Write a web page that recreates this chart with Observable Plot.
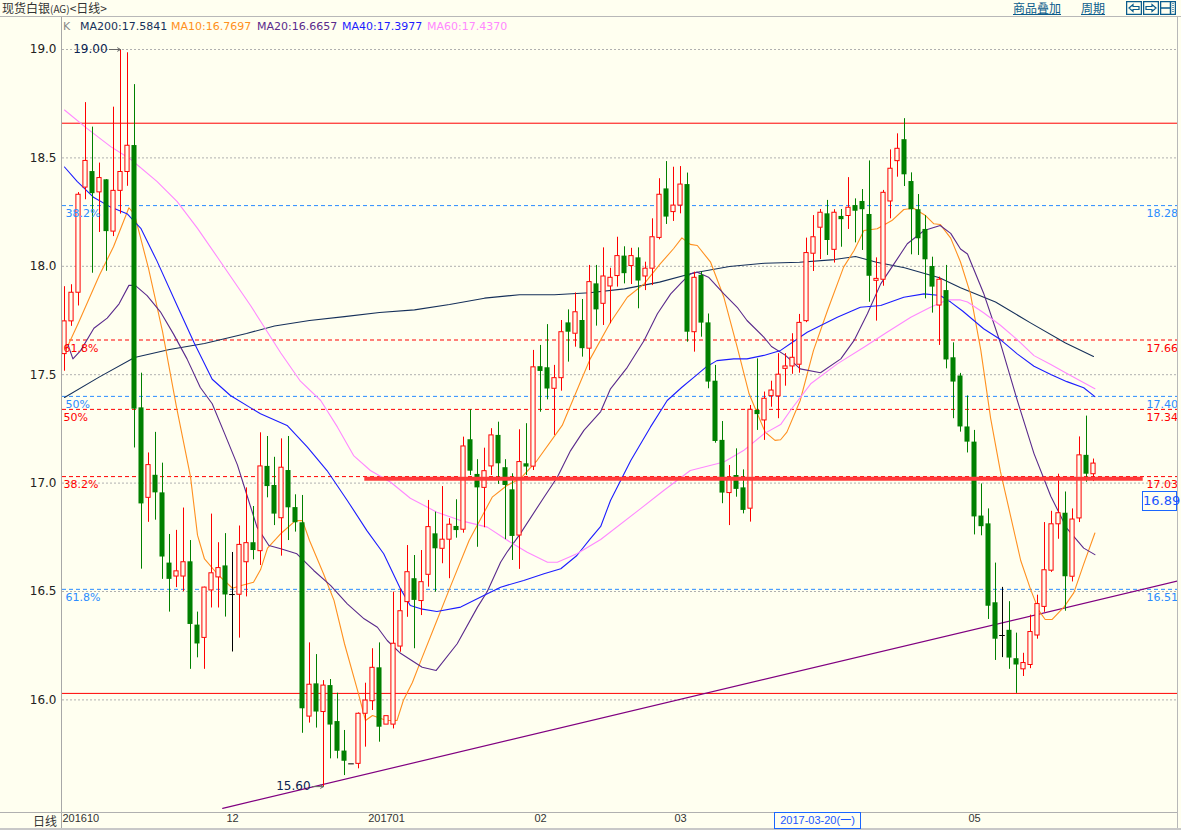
<!DOCTYPE html>
<html><head><meta charset="utf-8">
<script src="https://cdn.jsdelivr.net/npm/d3@7"></script>
<script src="https://cdn.jsdelivr.net/npm/@observablehq/plot@0.6"></script>
<style>
html,body{margin:0;padding:0;background:#fffff0;}
#wrap{position:relative;width:1181px;height:830px;overflow:hidden;background:#fffff0;font-family:"DejaVu Sans",sans-serif;}
#wrap > svg{position:absolute;left:0;top:0;}
.abs{position:absolute;white-space:nowrap;line-height:1;}
</style></head><body><div id="wrap"></div>
<script>
// ---------------- DATA ----------------
const opens  = [17.595,17.746,17.878,18.363,18.437,18.341,18.399,18.160,18.348,18.435,18.557,17.347,16.932,17.036,16.955,16.631,16.569,16.569,16.637,16.345,16.286,16.505,16.565,16.618,16.486,16.485,16.635,16.725,16.686,17.077,16.989,16.838,17.058,16.887,16.817,15.923,16.074,15.944,16.066,15.900,15.764,15.705,15.705,15.936,15.994,16.148,15.886,15.886,16.246,16.451,16.559,16.456,16.577,16.766,16.697,16.739,16.800,16.785,17.200,17.040,16.978,17.077,17.220,17.071,16.969,16.758,17.089,17.076,17.537,17.532,17.435,17.484,17.739,17.689,17.750,17.620,17.919,17.827,17.907,17.955,18.047,18.001,18.039,17.953,17.989,18.131,18.357,18.250,18.280,18.377,17.696,17.958,17.739,17.470,17.197,16.954,17.035,16.978,16.882,17.335,17.289,17.401,17.400,17.527,17.538,17.546,17.747,18.058,18.178,18.242,18.076,18.230,18.232,18.280,18.299,18.239,17.933,17.938,18.299,18.485,18.584,18.391,18.261,18.170,17.999,17.819,17.888,17.578,17.494,17.259,17.189,16.848,16.812,16.448,16.297,16.321,16.190,16.141,16.161,16.297,16.429,16.596,16.810,16.861,16.568,16.837,17.128,17.041];
const highs  = [17.906,17.915,18.340,18.755,18.642,18.476,18.400,18.734,19.000,18.985,18.838,17.507,17.139,17.234,17.092,16.763,16.782,16.885,16.735,16.405,16.520,16.857,16.725,16.767,16.680,16.802,16.978,16.892,17.232,17.215,17.119,17.204,17.215,16.946,16.943,16.263,16.209,16.089,16.094,16.031,15.859,15.705,15.940,16.077,16.236,16.263,15.925,16.497,16.512,16.712,16.666,16.689,16.920,16.866,16.984,16.836,16.923,17.212,17.338,17.108,17.161,17.251,17.281,17.108,17.043,17.246,17.274,17.612,17.635,17.731,17.543,17.750,17.799,17.877,17.847,18.004,18.004,18.085,17.991,18.134,18.090,18.083,18.085,18.019,18.219,18.404,18.483,18.457,18.460,18.430,17.973,17.973,17.780,17.543,17.284,17.081,17.158,17.061,17.358,17.573,17.420,17.470,17.597,17.597,17.689,17.778,18.130,18.234,18.262,18.304,18.261,18.262,18.409,18.311,18.354,18.486,18.039,18.350,18.537,18.611,18.681,18.431,18.331,18.234,18.042,17.950,18.004,17.647,17.506,17.402,17.243,16.996,16.881,16.631,16.519,16.453,16.308,16.215,16.391,16.483,16.818,16.870,17.041,16.959,16.881,17.213,17.309,17.111];
const lows   = [17.516,17.723,17.817,18.307,17.968,18.156,17.977,18.137,18.241,18.369,17.162,16.603,16.819,16.829,16.556,16.405,16.518,16.499,16.141,16.194,16.141,16.424,16.424,16.382,16.221,16.285,16.475,16.646,16.620,16.932,16.804,16.663,16.735,16.774,15.846,15.893,15.870,15.600,15.728,15.728,15.651,15.705,15.682,15.782,15.951,15.805,15.886,15.866,16.220,16.381,16.236,16.389,16.520,16.497,16.628,16.559,16.746,16.769,17.035,16.704,16.794,17.035,16.994,16.739,16.643,16.602,17.035,17.058,17.327,17.384,17.220,17.424,17.558,17.627,17.581,17.519,17.724,17.727,17.735,17.904,17.919,17.916,17.804,17.888,17.911,18.122,18.193,18.207,18.242,17.650,17.604,17.673,17.435,17.184,16.905,16.804,16.935,16.858,16.820,17.243,17.197,17.350,17.297,17.447,17.502,17.507,17.740,17.976,18.031,18.050,18.015,18.088,18.170,18.108,18.073,17.834,17.747,17.908,18.219,18.411,18.368,18.053,18.050,17.850,17.784,17.635,17.527,17.297,17.235,17.139,16.761,16.757,16.371,16.182,16.195,16.141,16.030,16.108,16.144,16.280,16.404,16.588,16.741,16.409,16.544,16.818,17.004,17.007];
const closes = [17.746,17.878,18.330,18.486,18.335,18.407,18.160,18.348,18.435,18.556,17.341,16.904,17.083,16.955,16.659,16.556,16.593,16.635,16.348,16.258,16.518,16.584,16.608,16.484,16.486,16.715,16.723,16.689,17.077,16.984,16.857,17.071,16.886,16.817,15.959,16.070,15.944,16.066,15.884,15.763,15.717,15.705,15.936,15.997,16.148,15.874,15.925,16.259,16.409,16.589,16.459,16.543,16.797,16.697,16.739,16.808,16.781,17.169,17.055,16.978,17.055,17.220,17.089,16.989,16.754,17.097,17.074,17.534,17.515,17.434,17.484,17.696,17.696,17.788,17.620,17.927,17.799,17.953,17.947,18.047,17.966,18.047,17.932,17.989,18.134,18.330,18.227,18.280,18.377,17.696,17.947,17.738,17.466,17.192,16.954,17.015,16.971,16.874,17.338,17.316,17.389,17.427,17.500,17.538,17.578,17.739,18.061,18.134,18.247,18.119,18.247,18.215,18.270,18.254,18.261,17.954,17.942,18.339,18.450,18.542,18.422,18.261,18.127,18.030,17.904,17.938,17.568,17.466,17.259,17.189,16.844,16.799,16.432,16.280,16.297,16.193,16.161,16.170,16.313,16.442,16.598,16.810,16.861,16.568,16.832,17.128,17.041,17.090];

// moving averages: [candle index, price]
const ma200 = [[0,17.395],[5,17.49],[10,17.579],[15,17.616],[20,17.644],[26,17.690],[30,17.725],[35,17.750],[40,17.768],[45,17.787],[50,17.799],[55,17.824],[60,17.853],[65,17.869],[70,17.869],[75,17.878],[80,17.896],[85,17.927],[90,17.970],[95,17.999],[100,18.014],[105,18.019],[110,18.031],[113,18.045],[116,18.019],[120,17.993],[125,17.947],[128,17.901],[133,17.835],[138,17.739],[143,17.646],[147,17.584]];
const ma10 = [[0,17.60],[2,17.74],[5,17.96],[7,18.09],[9.2,18.27],[10,18.24],[12,17.99],[14,17.70],[16,17.35],[18,17.03],[19,16.76],[20,16.65],[22,16.575],[24,16.515],[25,16.525],[27,16.543],[28,16.60],[29,16.70],[31,16.77],[33,16.827],[34,16.827],[35,16.735],[37,16.582],[38.5,16.459],[40,16.259],[42,16.028],[43,15.905],[44,15.928],[46,15.905],[47.5,15.905],[48.4,15.997],[49.7,16.08],[50.9,16.18],[53,16.35],[55.1,16.52],[57.8,16.735],[61.1,16.935],[63.2,16.989],[65.1,17.02],[67.5,17.104],[71.1,17.266],[73.7,17.466],[75.1,17.573],[78,17.742],[80.4,17.857],[82.8,17.919],[85.1,18.011],[87,18.081],[88.2,18.131],[89.4,18.101],[90.4,18.096],[92.3,18.019],[94.2,17.857],[96.1,17.627],[97.8,17.412],[98.9,17.327],[100.1,17.235],[101.5,17.197],[102.3,17.20],[103.2,17.235],[105.1,17.381],[107,17.612],[109,17.796],[111.3,17.996],[112.8,18.073],[114.2,18.165],[116.1,18.173],[118.2,18.211],[119.9,18.262],[121.3,18.268],[123,18.234],[124.2,18.196],[125.1,18.193],[126.6,18.13],[128,18.02],[129.4,17.876],[130.9,17.613],[132.3,17.300],[133.7,17.054],[135.1,16.856],[136.6,16.643],[138,16.511],[139.2,16.412],[140.1,16.371],[141.1,16.371],[142.8,16.429],[144.2,16.495],[145.6,16.626],[147.2,16.770]];
const ma20 = [[0.5,17.639],[1.2,17.573],[2.3,17.611],[4.2,17.714],[6.1,17.761],[7.8,17.827],[9.2,17.912],[10.1,17.912],[11.8,17.865],[13.7,17.790],[15.6,17.686],[17.5,17.573],[19.4,17.441],[21.1,17.366],[22.8,17.234],[24.7,17.084],[26.2,16.93],[27.5,16.797],[29.2,16.712],[30.9,16.697],[33.2,16.674],[35.6,16.597],[38,16.528],[40.4,16.443],[42.8,16.374],[44.7,16.335],[46.1,16.274],[48,16.215],[51.1,16.151],[53.1,16.136],[56.1,16.259],[59,16.428],[60.4,16.50],[62.3,16.635],[63.2,16.681],[65.1,16.766],[68.5,16.935],[70.4,17.027],[72.3,17.150],[74.2,17.243],[76.6,17.33],[78,17.435],[80.4,17.534],[82.8,17.658],[84.7,17.781],[86.6,17.873],[88.2,17.927],[89.4,17.965],[90.4,17.973],[92,17.950],[94.2,17.873],[96.1,17.811],[97.5,17.750],[99.9,17.673],[101,17.63],[103,17.589],[105.1,17.527],[108,17.509],[110.9,17.573],[112.8,17.658],[114.7,17.781],[116.6,17.919],[118.5,18.011],[120.4,18.104],[122.8,18.165],[125.1,18.188],[126.6,18.152],[128,18.08],[129,18.057],[131.3,17.876],[133.7,17.646],[136.1,17.383],[138.5,17.136],[140.9,16.939],[143.2,16.791],[145.6,16.700],[147.2,16.670]];
const ma40 = [[0,18.458],[1.8,18.392],[4.2,18.317],[6.6,18.273],[9,18.241],[10.9,18.175],[13.2,18.025],[16.1,17.818],[18.5,17.649],[21.1,17.479],[23.7,17.404],[26.6,17.347],[28,17.320],[31.8,17.266],[34.7,17.166],[37.5,17.058],[40.4,16.920],[43.2,16.781],[45.6,16.674],[48,16.512],[49.4,16.435],[50.9,16.42],[53.2,16.408],[56.6,16.428],[59.9,16.482],[62.3,16.52],[65.6,16.551],[68.5,16.582],[70.9,16.605],[73.2,16.666],[75.1,16.743],[76.6,16.80],[78,16.920],[80.9,17.104],[83.7,17.258],[86.1,17.381],[88.2,17.442],[89.9,17.488],[91.6,17.534],[93.2,17.565],[95.6,17.573],[97.5,17.573],[99.9,17.589],[102.3,17.612],[104,17.65],[106.1,17.696],[110.4,17.765],[113.7,17.811],[116.6,17.819],[119.9,17.857],[122.8,17.873],[125.1,17.865],[126.6,17.835],[128.3,17.794],[131.3,17.712],[133.7,17.662],[136.1,17.596],[138.5,17.539],[140.9,17.501],[143.2,17.468],[145.6,17.440],[147.2,17.399]];
const ma60 = [[0,18.721],[3.2,18.636],[6.6,18.552],[9.4,18.495],[13.2,18.392],[16.1,18.298],[19,18.175],[21.8,18.044],[24.2,17.931],[26.6,17.818],[30.9,17.60],[33.7,17.47],[36.6,17.381],[39,17.258],[41.3,17.127],[43.7,17.058],[46.6,17.004],[49.4,16.93],[53.2,16.866],[56.6,16.827],[60.4,16.797],[63.7,16.727],[66.1,16.681],[69,16.635],[70.4,16.635],[73.2,16.674],[76.6,16.74],[82.3,16.882],[85.6,16.966],[89.4,17.058],[94.2,17.097],[97,17.150],[99.9,17.227],[102.3,17.27],[103.7,17.335],[106.6,17.458],[110.4,17.550],[114.2,17.627],[117.5,17.696],[120.9,17.765],[123.7,17.811],[126.1,17.845],[128,17.845],[129,17.835],[131.3,17.786],[133.7,17.728],[136.1,17.662],[138.5,17.588],[140.9,17.547],[143.2,17.506],[147.2,17.435]];

const maNames   = ["MA200","MA10","MA20","MA40","MA60"];
const maLegend  = [17.5841,16.7697,16.6657,17.3977,17.4370];
const maColors  = ["#16305a","#ff9020","#5a2a8c","#1c1cff","#ff88ff"];

const yTicks = [16.0,16.5,17.0,17.5,18.0,18.5,19.0];
const fibBluePrice = [18.28,17.40,16.51];
const fibBlueLabel = ["38.2%","50%","61.8%"];
const fibRedPrice  = [17.66,17.34,17.03];
const fibRedLabel  = ["61.8%","50%","38.2%"];
const levelPrices  = [18.66,16.03];
const supportLine  = {from:42.9, to:154.1, p:17.02};
const trendLine    = [{i:22.6,p:15.50},{i:159,p:16.548}];
const tickIndex = [0,24,46,68,88,130];
const tickLabel = ["201610","12","201701","02","03","05"];

// ---------------- BUILD ----------------
const BG="#fffff0", RED="#ff0000", GREEN="#008000", BLUE="#2b8cff";
const candles = opens.map((o,i)=>({i,o,h:highs[i],l:lows[i],c:closes[i]}));
const up = candles.filter(d=>d.c>d.o), down = candles.filter(d=>d.c<d.o), flat = candles.filter(d=>d.c===d.o);
const hiC = candles.reduce((a,b)=>b.h>a.h?b:a), loC = candles.reduce((a,b)=>b.l<a.l?b:a);
const extremes = [{i:hiC.i,p:hiC.h},{i:loC.i,p:loC.l}];
const fibBlue = fibBluePrice.map((p,k)=>({p,label:fibBlueLabel[k]}));
const fibRed  = fibRedPrice.map((p,k)=>({p,label:fibRedLabel[k]}));
const months = tickIndex.map((i,k)=>({i,label:tickLabel[k]}));
const pts = a => a.map(([i,p])=>({i,p}));
const maSeries = [ma200,ma10,ma20,ma40,ma60];

const W=1181,H=830,mL=62,mR=4,mT=17,mB=18;
const xDom=[(mL-64)/7,(W-mR-64)/7];
const pxPerUnit=216.8;
const yDom=[19-((H-mB)-49)/pxPerUnit, 19+(49-mT)/pxPerUnit];

const chart = Plot.plot({
  width:W,height:H,marginLeft:mL,marginRight:mR,marginTop:mT,marginBottom:mB,
  x:{type:"linear",domain:xDom,axis:null},
  y:{type:"linear",domain:yDom,axis:null},
  style:{background:"transparent",fontFamily:"'DejaVu Sans',sans-serif",fontSize:"11px"},
  marks:[
    Plot.ruleY(yTicks,{stroke:"#b0b0b0",strokeDasharray:"2,2"}),
    Plot.ruleY(fibBlue,{y:"p",stroke:BLUE,strokeDasharray:"4,3"}),
    Plot.ruleY(fibRed,{y:"p",stroke:RED,strokeDasharray:"4,3"}),
    Plot.ruleY(levelPrices,{stroke:RED}),
    Plot.line(trendLine,{x:"i",y:"p",stroke:"#800080",strokeWidth:1.2,clip:true}),
    ...maSeries.map((s,k)=>Plot.line(pts(s),{x:"i",y:"p",stroke:maColors[k],strokeWidth:1.1})),
    Plot.ruleX(down,{x:"i",y1:"l",y2:"h",stroke:GREEN}),
    Plot.rect(down,{x1:d=>d.i-0.36,x2:d=>d.i+0.36,y1:"o",y2:"c",fill:GREEN}),
    Plot.ruleX(up,{x:"i",y1:"c",y2:"h",stroke:RED}),
    Plot.ruleX(up,{x:"i",y1:"l",y2:"o",stroke:RED}),
    Plot.rect(up,{x1:d=>d.i-0.3,x2:d=>d.i+0.3,y1:"o",y2:"c",fill:BG,stroke:RED}),
    Plot.ruleX(flat,{x:"i",y1:"l",y2:"h",stroke:"#000"}),
    Plot.ruleY(flat,{y:"c",x1:d=>d.i-0.4,x2:d=>d.i+0.4,stroke:"#000"}),
    Plot.ruleY([supportLine],{y:"p",x1:"from",x2:"to",stroke:"#ff3a3a",strokeWidth:4}),
    // fib labels
    Plot.text(fibBlue,{y:"p",text:"label",frameAnchor:"left",textAnchor:"start",dx:3,dy:8,fill:BLUE}),
    Plot.text(fibRed,{y:"p",text:"label",frameAnchor:"left",textAnchor:"start",dx:1,dy:8,fill:RED}),
    Plot.text(fibBlue,{y:"p",text:d=>d.p.toFixed(2),frameAnchor:"right",textAnchor:"start",dx:-31,dy:8,fill:BLUE}),
    Plot.text(fibRed,{y:"p",text:d=>d.p.toFixed(2),frameAnchor:"right",textAnchor:"start",dx:-31,dy:8,fill:RED}),
    // extremes
    Plot.arrow(extremes,{x1:d=>d.i-1.6,y1:"p",x2:"i",y2:"p",stroke:"#666",headLength:5,strokeWidth:1}),
    Plot.text(extremes,{x:d=>d.i-1.85,y:"p",text:d=>d.p.toFixed(2),textAnchor:"end",fill:"#0b2350",fontSize:12}),
    // y axis labels
    Plot.text(yTicks,{y:d=>d,text:d=>d.toFixed(1),frameAnchor:"left",textAnchor:"end",dx:-6,fill:"#222",fontSize:12}),
    // x axis labels
    Plot.text(months.slice(0,1),{x:"i",text:"label",frameAnchor:"bottom",textAnchor:"start",dx:-2,dy:9,fill:"#333",fontFamily:"'Liberation Sans',sans-serif",fontSize:11}),
    Plot.text(months.slice(1),{x:"i",text:"label",frameAnchor:"bottom",textAnchor:"middle",dy:9,fill:"#333",fontFamily:"'Liberation Sans',sans-serif",fontSize:11})
  ]
});
const wrap=document.getElementById("wrap");
wrap.appendChild(chart);

function add(html,css){const d=document.createElement("div");d.className="abs";d.innerHTML=html;Object.assign(d.style,css);wrap.appendChild(d);return d;}
// frame lines
add("",{left:"0px",top:"16px",width:"1181px",height:"1px",background:"#b8b8b8"});
add("",{left:"61px",top:"17px",width:"1px",height:"813px",background:"#a8a8a8"});
add("",{left:"1177px",top:"17px",width:"1px",height:"813px",background:"#b8b8b8"});
add("",{left:"0px",top:"812px",width:"1177px",height:"1px",background:"#b0b0b0"});
add("",{left:"0px",top:"828px",width:"1181px",height:"2px",background:"#c8c8c8"});
// header
const cjk="'Noto Sans CJK SC',sans-serif";
add("现货白银<span style='font-size:10px'>(AG)</span>&lt;日线&gt;",{left:"2px",top:"0px",height:"16px",lineHeight:"16px",fontSize:"12px",color:"#333",fontFamily:cjk});
add("日线",{left:"33px",top:"813px",height:"16px",lineHeight:"16px",fontSize:"12px",color:"#333",fontFamily:cjk});
// legend
add("K",{left:"63px",top:"21px",fontSize:"11px",color:"#888"});
const legendX=[80,171,257,342,427];
maNames.forEach((n,k)=>add(n+":"+maLegend[k].toFixed(4),{left:legendX[k]+"px",top:"21px",fontSize:"11px",color:maColors[k]}));
// top-right
const tr={top:"0px",height:"16px",lineHeight:"16px",fontSize:"12px",color:"#0b5c8c",textDecoration:"underline",fontFamily:cjk};
add("商品叠加",Object.assign({left:"1013px"},tr));
add("周期",Object.assign({left:"1081px"},tr));
const IC="#0b5c8c";
const iconL=`<svg width="16" height="14"><rect x="0.5" y="0.5" width="15" height="13" fill="none" stroke="${IC}" stroke-width="1.5"/><path d="M3 7 L7 3.5 L7 5.5 L13 5.5 L13 8.5 L7 8.5 L7 10.5 Z" fill="none" stroke="${IC}" stroke-width="1.2"/></svg>`;
const iconR=`<svg width="16" height="14"><rect x="0.5" y="0.5" width="15" height="13" fill="none" stroke="${IC}" stroke-width="1.5"/><path d="M13 7 L9 3.5 L9 5.5 L3 5.5 L3 8.5 L9 8.5 L9 10.5 Z" fill="none" stroke="${IC}" stroke-width="1.2"/></svg>`;
const iconS=`<svg width="16" height="14"><rect x="0.5" y="0.5" width="15" height="13" fill="none" stroke="${IC}" stroke-width="1.5"/><path d="M1 7 H10 M10.5 1 V13" stroke="${IC}" stroke-width="1.5"/><path d="M13 2 V12" stroke="${IC}" stroke-width="1.2" stroke-dasharray="1,1"/></svg>`;
add(iconL,{left:"1126px",top:"1px"});
add(iconR,{left:"1143px",top:"1px"});
add(iconS,{left:"1160px",top:"1px"});
// cursor boxes
add("2017-03-20(一)",{left:"774px",top:"812px",width:"85px",height:"15px",border:"1px solid #1a66ff",color:"#1a55ff",fontSize:"11px",textAlign:"center",lineHeight:"15px",background:"#fffff0",fontFamily:"'Liberation Sans','Noto Sans CJK SC',sans-serif"});
add("16.89",{left:"1142px",top:"491px",width:"33px",height:"18px",border:"1px solid #1a66ff",color:"#1a55ff",fontSize:"13px",textAlign:"center",lineHeight:"18px",background:"#fffff0"});
</script></body></html>
